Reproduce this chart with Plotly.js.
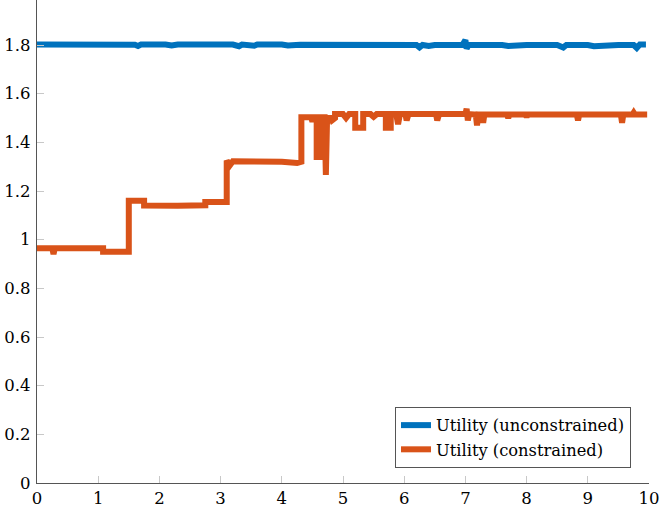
<!DOCTYPE html>
<html>
<head>
<meta charset="utf-8">
<script src="https://cdn.plot.ly/plotly-3.0.1.min.js"></script>
<style>html,body{margin:0;padding:0;background:#fff;}#chart{width:665px;height:508px;}</style>
</head>
<body>
<div id="chart"></div>
<script>
// Utility (unconstrained)
const xUnconstrained = [0, 0.5, 0.55, 0.6, 1.2, 1.25, 1.3, 1.6, 1.65, 1.7, 2.1, 2.2, 2.3, 2.9, 3.0, 3.05, 3.2, 3.3, 3.35, 3.55, 3.6, 4.0, 4.1, 4.3, 4.7, 4.8, 4.9, 5.3, 5.5, 5.6, 6.2, 6.25, 6.3, 6.4, 6.5, 6.95, 7.0, 7.02, 7.05, 7.6, 7.7, 8.0, 8.5, 8.6, 8.65, 9.0, 9.1, 9.5, 9.75, 9.8, 9.85, 9.95];
const yUnconstrained = [1.802, 1.802, 1.798, 1.803, 1.802, 1.797, 1.802, 1.801, 1.796, 1.802, 1.802, 1.798, 1.802, 1.802, 1.796, 1.800, 1.802, 1.795, 1.802, 1.797, 1.802, 1.802, 1.798, 1.801, 1.801, 1.797, 1.802, 1.800, 1.797, 1.802, 1.800, 1.790, 1.800, 1.796, 1.800, 1.800, 1.820, 1.785, 1.800, 1.800, 1.796, 1.800, 1.800, 1.790, 1.800, 1.800, 1.795, 1.800, 1.800, 1.788, 1.802, 1.802];

// Utility (constrained)
const xConstrained = [0, 0.25, 0.27, 0.29, 1.08, 1.08, 1.5, 1.5, 1.75, 1.75, 2.3, 2.75, 2.75, 3.1, 3.1, 3.15, 3.2, 3.5, 4.0, 4.25, 4.32, 4.32, 4.48, 4.5, 4.52, 4.57, 4.57, 4.66, 4.66, 4.7, 4.72, 4.74, 4.8, 4.82, 4.87, 4.87, 5.0, 5.05, 5.1, 5.2, 5.2, 5.33, 5.33, 5.45, 5.5, 5.55, 5.7, 5.7, 5.78, 5.78, 5.87, 5.9, 5.93, 6.02, 6.04, 6.07, 6.52, 6.54, 6.57, 7.0, 7.02, 7.04, 7.06, 7.17, 7.19, 7.21, 7.27, 7.29, 7.31, 7.68, 7.7, 7.72, 7.98, 8.0, 8.02, 8.82, 8.84, 8.86, 9.54, 9.56, 9.58, 9.73, 9.75, 9.77, 9.97];
const yConstrained = [0.965, 0.965, 0.940, 0.965, 0.965, 0.950, 0.950, 1.160, 1.160, 1.140, 1.139, 1.141, 1.155, 1.155, 1.325, 1.305, 1.322, 1.322, 1.320, 1.315, 1.320, 1.503, 1.503, 1.485, 1.503, 1.503, 1.340, 1.340, 1.503, 1.503, 1.266, 1.500, 1.500, 1.490, 1.500, 1.516, 1.516, 1.500, 1.516, 1.516, 1.460, 1.460, 1.516, 1.516, 1.505, 1.516, 1.516, 1.460, 1.460, 1.516, 1.516, 1.475, 1.516, 1.516, 1.490, 1.516, 1.516, 1.490, 1.516, 1.516, 1.538, 1.490, 1.516, 1.514, 1.470, 1.514, 1.514, 1.480, 1.514, 1.514, 1.500, 1.514, 1.514, 1.505, 1.514, 1.514, 1.490, 1.514, 1.514, 1.480, 1.514, 1.514, 1.522, 1.514, 1.514];

const xTicks = [0, 1, 2, 3, 4, 5, 6, 7, 8, 9, 10];
const yTicks = [0, 0.2, 0.4, 0.6, 0.8, 1, 1.2, 1.4, 1.6, 1.8];
const seriesNames = ['Utility (unconstrained)', 'Utility (constrained)'];

const fontFamily = 'DejaVu Serif';

const traces = [
  {x: xUnconstrained, y: yUnconstrained, name: seriesNames[0], mode: 'lines',
   line: {color: '#0072BD', width: 6}},
  {x: xConstrained, y: yConstrained, name: seriesNames[1], mode: 'lines',
   line: {color: '#D95319', width: 6}}
];

const axisCommon = {
  showgrid: false, zeroline: false, showline: true, linecolor: '#555555', linewidth: 1.2,
  ticks: 'inside', ticklen: 7, tickcolor: '#c8c8c8', tickwidth: 1,
  tickfont: {family: fontFamily, size: 16.5, color: '#000'}, mirror: false
};

const layout = {
  width: 665, height: 508,
  margin: {l: 37, r: 16, t: 0, b: 25, pad: 0},
  paper_bgcolor: '#fff', plot_bgcolor: '#fff',
  font: {family: fontFamily, size: 16.5, color: '#000'},
  xaxis: Object.assign({}, axisCommon, {range: [0, 10], tickvals: xTicks, ticktext: xTicks.map(String), ticklabelstandoff: 0}),
  yaxis: Object.assign({}, axisCommon, {range: [0, 1.985], tickvals: yTicks, ticktext: yTicks.map(String), ticklabelstandoff: 2}),
  showlegend: true,
  legend: {x: 0.9706, y: 0.031, xanchor: 'right', yanchor: 'bottom',
    bordercolor: '#555555', borderwidth: 1, bgcolor: '#fff',
    font: {family: fontFamily, size: 16.3, color: '#000'}, tracegroupgap: 0}
};

Plotly.newPlot('chart', traces, layout, {displayModeBar: false, staticPlot: true});
</script>
</body>
</html>
